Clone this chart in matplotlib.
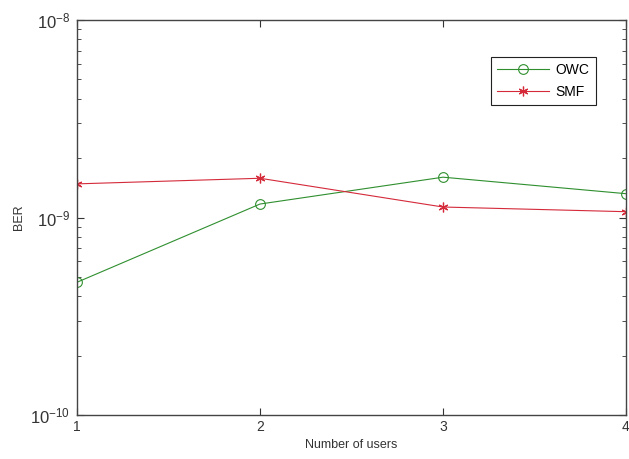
import matplotlib
matplotlib.use("Agg")
import matplotlib.pyplot as plt
from matplotlib.ticker import LogLocator, NullFormatter

users = [1, 2, 3, 4]
ber_owc = [4.7e-10, 1.17e-9, 1.60e-9, 1.32e-9]
ber_smf = [1.48e-9, 1.58e-9, 1.13e-9, 1.07e-9]

plt.rcParams["font.family"] = ["Liberation Sans", "DejaVu Sans"]
plt.rcParams["mathtext.fontset"] = "custom"
plt.rcParams["mathtext.rm"] = "Liberation Sans"
plt.rcParams["mathtext.default"] = "rm"

fig = plt.figure(figsize=(6.29, 4.59), dpi=100)
ax = fig.add_axes([77 / 629, 1 - 415 / 459, (626 - 77) / 629, (415 - 20) / 459])

ax.plot(users, ber_owc, color="#2f8f2f", linewidth=0.8, marker="o", markersize=7,
        markerfacecolor="none", markeredgecolor="#2f8f2f", markeredgewidth=0.8, label="OWC")
ax.plot(users, ber_smf, color="#d42a3a", linewidth=0.8, marker=(6, 2, 0), markersize=7,
        markeredgewidth=0.9, label="SMF")

ax.set_yscale("log")
ax.set_xlim(1, 4)
ax.set_ylim(1e-10, 1e-8)
ax.set_xticks(users)
ax.yaxis.set_major_locator(LogLocator(base=10, numticks=5))
ax.yaxis.set_minor_locator(LogLocator(base=10, subs=range(2, 10), numticks=20))
ax.yaxis.set_minor_formatter(NullFormatter())

ax.tick_params(which="both", direction="in", top=True, right=True, colors="#333333")
ax.tick_params(axis="x", labelsize=10)
ax.tick_params(axis="y", labelsize=12, pad=5)
ax.tick_params(which="major", length=5)
ax.tick_params(which="minor", length=3)
for s in ax.spines.values():
    s.set_color("#444444")
    s.set_linewidth(1.0)

ax.set_xlabel("Number of users", fontsize=9, color="#333333")
ax.set_ylabel("BER", fontsize=9, color="#333333")

leg = ax.legend(loc="upper left", bbox_to_anchor=(491 / 629, 1 - 57 / 459),
                bbox_transform=fig.transFigure, fontsize=10, fancybox=False,
                edgecolor="#222222", framealpha=1, handlelength=3.7,
                handletextpad=0.5, borderpad=0.45, labelspacing=0.55,
                borderaxespad=0)
leg.get_frame().set_linewidth(0.8)

fig.savefig("out.png", dpi=100)
